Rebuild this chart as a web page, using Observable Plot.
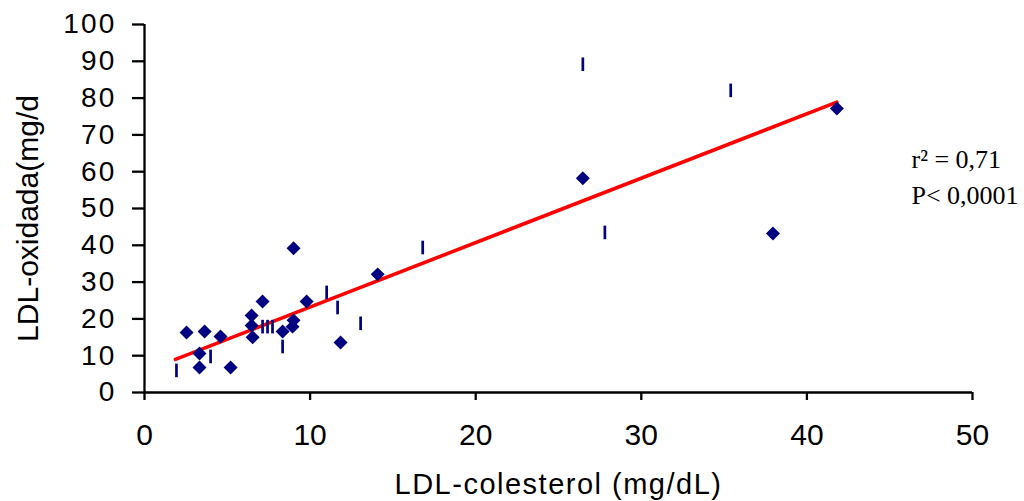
<!DOCTYPE html>
<html><head><meta charset="utf-8">
<script src="https://cdn.jsdelivr.net/npm/d3@7"></script>
<script src="https://cdn.jsdelivr.net/npm/@observablehq/plot@0.6"></script>
<style>
body{margin:0;background:#fff;}
svg{font-family:"Liberation Sans",Arial,sans-serif;}
g[aria-label="y-axis tick label"] text{letter-spacing:2.2px;}
</style></head><body><div id="chart"></div>
<script>
// Series 1: diamond markers
const diamondX = [2.54, 3.63, 3.32, 3.32, 4.59, 5.2, 6.47, 6.47, 6.53, 7.13, 8.34, 9.0, 8.94, 9.0, 9.79, 11.84, 14.08, 26.47, 37.95, 41.81];
const diamondY = [16.3, 16.6, 10.6, 6.8, 15.2, 6.8, 20.9, 18.2, 15.0, 24.7, 16.6, 19.6, 17.9, 39.2, 24.7, 13.6, 32.1, 58.2, 43.2, 77.2];
// Series 2: dash markers
const dashX = [1.93, 3.99, 7.13, 7.43, 7.73, 8.34, 11.0, 11.66, 13.05, 16.8, 26.47, 35.4, 27.8];
const dashY = [6.0, 9.8, 17.9, 17.9, 17.9, 12.5, 27.2, 23.1, 18.8, 39.4, 89.2, 82.1, 43.5];
// Linear trend line endpoints
const trendX = [1.87, 41.81];
const trendY = [9.0, 78.9];
// Axes
const xTicks = [0, 10, 20, 30, 40, 50];
const yTicks = [0, 10, 20, 30, 40, 50, 60, 70, 80, 90, 100];
const xTitle = "LDL-colesterol (mg/dL)";
const yTitle = "LDL-oxidada(mg/d";
const statsText = ["r² = 0,71", "P< 0,0001"];

const diamonds = diamondX.map((x, i) => ({x, y: diamondY[i]}));
const dashes = dashX.map((x, i) => ({x, y: dashY[i]}));
const trend = trendX.map((x, i) => ({x, y: trendY[i]}));
const dashSymbol = {draw(ctx) { ctx.moveTo(0, -6.8); ctx.lineTo(0, 6.8); }};

const chart = Plot.plot({
  width: 1024, height: 501,
  marginLeft: 144, marginRight: 52, marginTop: 24, marginBottom: 109,
  x: {domain: [0, 50]},
  y: {domain: [0, 100]},
  marks: [
    Plot.axisX({ticks: xTicks, tickSize: 8, tickPadding: 23, fontSize: 30, label: null, strokeWidth: 2.3, tickFormat: d => String(d)}),
    Plot.axisY({ticks: yTicks, tickSize: 12, tickPadding: 16, fontSize: 28, label: null, strokeWidth: 2.3, tickFormat: d => String(d)}),
    Plot.ruleX([0], {stroke: "#000", strokeWidth: 2.3}),
    Plot.ruleY([0], {stroke: "#000", strokeWidth: 2.3}),
    Plot.line(trend, {x: "x", y: "y", stroke: "#ff0000", strokeWidth: 3.6}),
    Plot.dot(dashes, {x: "x", y: "y", symbol: dashSymbol, stroke: "#000080", strokeWidth: 2.7, fill: "none"}),
    Plot.dot(diamonds, {x: "x", y: "y", symbol: "diamond2", r: 6.3, fill: "#000080", stroke: "none"}),
    Plot.text([xTitle], {text: d => d, frameAnchor: "bottom", textAnchor: "middle", lineAnchor: "top", dy: 81, fontSize: 29, fill: "#000"}),
    Plot.text([yTitle], {text: d => d, frameAnchor: "left", textAnchor: "middle", rotate: -90, dx: -116, dy: 10, fontSize: 30, fill: "#000"}),
    Plot.text([statsText.join("\n")], {text: d => d, frameAnchor: "top-right", textAnchor: "start", lineAnchor: "top", dx: -61, dy: 119, fontSize: 26, lineHeight: 1.35, fontFamily: "Liberation Serif", fill: "#000"})
  ]
});
d3.select(chart).selectAll("text").filter(function() { return this.textContent === xTitle; }).style("letter-spacing", "1.5px");
document.getElementById("chart").appendChild(chart);
</script></body></html>
